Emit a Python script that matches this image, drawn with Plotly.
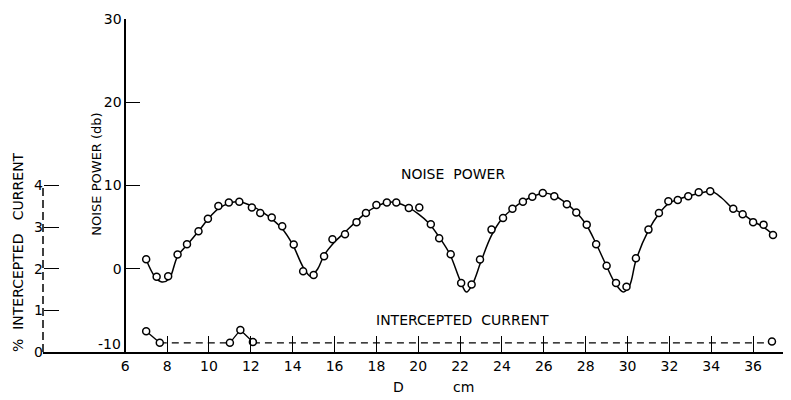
import plotly.graph_objects as go

# ---- data ----
np_d = [7.0, 7.5, 8.05, 8.5, 8.95, 9.5, 9.95, 10.45, 10.95, 11.45, 12.05, 12.45, 13.0, 13.5, 14.05,
        14.5, 15.0, 15.5, 15.9, 16.5, 17.05, 17.5, 18.0, 18.5, 18.95, 19.55, 20.05, 20.6, 21.0, 21.55,
        22.05, 22.55, 22.95, 23.5, 24.05, 24.5, 25.0, 25.45, 25.95, 26.5, 27.1, 27.55, 28.05, 28.5, 29.0,
        29.45, 29.95, 30.4, 31.0, 31.5, 31.95, 32.4, 32.9, 33.4, 33.95, 35.05, 35.5, 36.0, 36.5, 36.95]
np_db = [1.15, -0.95, -0.9, 1.7, 2.95, 4.5, 6.0, 7.55, 7.95, 8.05, 7.35, 6.7, 6.15, 5.1, 2.9,
         -0.3, -0.75, 1.5, 3.55, 4.15, 5.6, 6.7, 7.65, 7.95, 7.95, 7.3, 7.35, 5.35, 3.65, 1.75,
         -1.7, -1.9, 1.1, 4.7, 6.1, 7.2, 8.05, 8.65, 9.1, 8.7, 7.75, 6.75, 5.3, 2.95, 0.35,
         -1.7, -2.15, 1.25, 4.7, 6.7, 8.1, 8.25, 8.7, 9.2, 9.3, 7.2, 6.55, 5.6, 5.3, 4.05]

# smooth hand-drawn curve through the noise points
curve_d = [7.0, 7.4, 7.75, 8.1, 8.5, 9.0, 9.5, 10.0, 10.5, 11.0, 11.4, 12.0, 12.5, 13.0, 13.5, 14.0,
           14.5, 14.85, 15.2, 15.5, 16.0, 16.5, 17.0, 17.5, 18.0, 18.6, 19.0, 19.5, 20.0, 20.5, 21.0,
           21.5, 22.0, 22.3, 22.6, 23.0, 23.5, 24.0, 24.5, 25.0, 25.5, 26.0, 26.5, 27.0, 27.5, 28.0,
           28.5, 29.0, 29.4, 29.8, 30.1, 30.4, 31.0, 31.5, 32.0, 32.5, 33.0, 33.5, 34.0, 34.5, 35.0,
           35.5, 36.0, 36.5, 37.0]
curve_db = [1.1, -0.9, -1.6, -1.2, 1.5, 3.0, 4.5, 6.1, 7.3, 7.9, 8.05, 7.6, 6.9, 6.0, 4.8, 2.9,
            0.2, -0.9, 0.0, 1.6, 3.2, 4.4, 5.6, 6.7, 7.5, 8.0, 7.9, 7.4, 6.6, 5.5, 3.8,
            1.8, -1.4, -2.8, -1.8, 0.9, 4.0, 6.0, 7.2, 8.1, 8.7, 9.1, 8.8, 8.0, 6.9, 5.4,
            3.0, 0.3, -1.7, -2.8, -2.0, 1.0, 4.6, 6.6, 7.9, 8.4, 8.8, 9.1, 9.3, 8.5, 7.3,
            6.6, 5.7, 5.0, 4.0]

cur_d = [7.0, 7.65, 11.0, 11.5, 12.1, 36.9]
cur_pct = [0.5, 0.22, 0.22, 0.53, 0.24, 0.25]
cur_base = 0.22

x_ticks = list(range(6, 37, 2))
db_ticks = [-10, 0, 10, 20, 30]
db_labels = ["", "0", "10", "20", "30"]   # the -10 label is drawn lifted above the axis line
db_low_label = "-10"
pct_ticks = [0, 1, 2, 3, 4]

FONT = "DejaVu Sans"
X0, X1 = 2.07, 37.81
axis_pos = (6 - X0) / (X1 - X0)

fig = go.Figure()

fig.add_trace(go.Scatter(x=curve_d, y=curve_db, mode="lines",
                         line=dict(color="black", width=1.5, shape="spline"),
                         hoverinfo="skip", showlegend=False))
fig.add_trace(go.Scatter(x=np_d, y=np_db, mode="markers",
                         marker=dict(symbol="circle", size=7, color="white",
                                     line=dict(color="black", width=1.5)),
                         showlegend=False))

# intercepted current: solid segments between clustered points, dashed baseline
seg_x = cur_d[0:2] + [None] + cur_d[2:5]
seg_y = cur_pct[0:2] + [None] + cur_pct[2:5]
fig.add_trace(go.Scatter(x=seg_x, y=seg_y, mode="lines", yaxis="y2",
                         line=dict(color="black", width=1.3), showlegend=False))
dash_x = [cur_d[1], cur_d[2], None, cur_d[4], cur_d[5]]
dash_y = [cur_base, cur_base, None, cur_base, cur_base]
fig.add_trace(go.Scatter(x=dash_x, y=dash_y, mode="lines", yaxis="y2",
                         line=dict(color="black", width=1.3, dash="7px,5px"), showlegend=False))
fig.add_trace(go.Scatter(x=cur_d, y=cur_pct, mode="markers", yaxis="y2",
                         marker=dict(symbol="circle", size=7, color="white",
                                     line=dict(color="black", width=1.5)),
                         showlegend=False))

# the page body adds an 8px offset, so the figure is 8px smaller on each side
fig.update_layout(
    width=783, height=392,
    margin=dict(l=35, r=0, t=11, b=48, autoexpand=False),
    paper_bgcolor="white", plot_bgcolor="white",
    font=dict(family=FONT, color="black", size=14),
    xaxis=dict(range=[X0, X1], tickvals=x_ticks, ticktext=[str(v) for v in x_ticks],
               ticks="inside", ticklen=16, tickwidth=1, tickcolor="black",
               showline=True, linecolor="black", linewidth=1.5, automargin=False,
               showgrid=False, zeroline=False, tickfont=dict(size=14)),
    yaxis=dict(range=[-10, 30], tickvals=db_ticks, ticktext=db_labels,
               anchor="free", position=axis_pos,
               ticks="inside", ticklen=14, tickwidth=1, tickcolor="black", automargin=False,
               showline=True, linecolor="black", linewidth=1.5,
               showgrid=False, zeroline=False, tickfont=dict(size=14)),
    yaxis2=dict(range=[0, 8], tickvals=pct_ticks, overlaying="y", anchor="free", position=0,
                side="left", ticks="inside", ticklen=15, tickwidth=1, tickcolor="black",
                automargin=False,
                showline=False, showgrid=False, zeroline=False, tickfont=dict(size=14)),
)

# dashed left axis for % intercepted current
fig.add_shape(type="line", xref="paper", yref="y2", x0=0, x1=0, y0=0, y1=4,
              line=dict(color="black", width=1.5, dash="8px,4px"))

fig.add_annotation(text=db_low_label, xref="paper", yref="y", x=axis_pos, y=db_ticks[0],
                   xanchor="right", yanchor="middle", xshift=-2, yshift=8,
                   showarrow=False, font=dict(size=14))
fig.add_annotation(text="NOISE POWER (db)", textangle=-90, xref="paper", yref="y",
                   x=(97 - 43) / 748, y=11.3, showarrow=False, font=dict(size=13),
                   xanchor="center", yanchor="middle")
fig.add_annotation(text="%  INTERCEPTED   CURRENT", textangle=-90, xref="paper", yref="paper",
                   x=(18 - 43) / 748, y=(352 - 252) / 333, showarrow=False,
                   xanchor="center", yanchor="middle", font=dict(size=14))
fig.add_annotation(text="NOISE  POWER", x=21.66, y=11.4, showarrow=False, font=dict(size=14))
fig.add_annotation(text="INTERCEPTED  CURRENT", x=22.1, y=-6.1, showarrow=False, font=dict(size=14))
fig.add_annotation(text="D", x=19.05, xref="x", yref="paper", y=(352 - 387) / 333,
                   xanchor="center", yanchor="middle", showarrow=False, font=dict(size=14))
fig.add_annotation(text="cm", x=22.15, xref="x", yref="paper", y=(352 - 387) / 333,
                   xanchor="center", yanchor="middle", showarrow=False, font=dict(size=14))

fig.write_html("out.html")
